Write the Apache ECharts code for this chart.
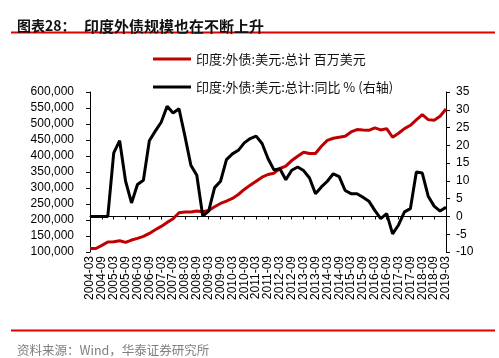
<!DOCTYPE html>
<html>
<head>
<meta charset="utf-8">
<script src="https://cdn.jsdelivr.net/npm/echarts@6/dist/echarts.min.js"></script>
<style>
html,body{margin:0;padding:0;background:#fff;}
#c{width:499px;height:358px;}
</style>
</head>
<body>
<div id="c"></div>
<script>
// Quarterly categories 2004-03 .. 2019-03
const categories = [];
for (let y = 2004; y <= 2019; y++) {
  for (const m of ['03','06','09','12']) {
    if (y === 2019 && m !== '03') break;
    categories.push(y + '-' + m);
  }
}
// India external debt, total, USD million (left axis)
const debtTotal = [
  111000,111000,120600,131100,132000,135200,130000,137300,142500,148700,
  158100,169600,180000,192500,203900,222600,224700,224700,227800,225700,
  229700,241300,251700,259000,267300,279700,295400,308900,321400,333800,
  342200,346300,360900,368100,385800,399400,411800,407600,407600,430500,
  448700,455500,458600,461700,475200,482500,481400,480400,487700,481400,
  485600,458600,471100,485600,496000,512700,529300,513700,511600,524100,
  547000
];
// Year-on-year %, right axis
const debtYoY = [
  0,0,0,0,17.9,21.3,9.9,3.8,9.0,10.2,
  21.3,24.0,26.5,31.0,29.1,30.3,22.6,14.4,11.6,0.1,
  1.5,8.1,9.9,16.0,17.6,18.6,20.7,21.9,22.6,20.5,
  16.3,13.1,13.4,10.3,13.0,13.9,12.9,10.8,6.4,8.3,
  9.9,12.0,11.2,7.3,6.4,6.4,5.4,4.3,1.7,-0.6,
  0.8,-4.9,-2.4,1.3,2.2,12.5,12.2,5.7,2.9,1.5,
  2.6
];
const seriesNames = ['印度:外债:美元:总计 百万美元', '印度:外债:美元:总计:同比 % (右轴)'];
const titleMain = '印度外债规模也在不断上升';
const titleLabel = '图表28：';
const sourceText = '资料来源：Wind，华泰证券研究所';

const chart = echarts.init(document.getElementById('c'), null, {renderer: 'canvas'});
const cjk = '"Noto Sans CJK SC", sans-serif';
const latin = 'Arial, "Liberation Sans", sans-serif';

chart.setOption({
  animation: false,
  backgroundColor: '#fff',
  title: [
    {text: titleLabel, left: 12, top: 11, textStyle: {fontFamily: cjk, fontSize: 14, fontWeight: 'bold', color: '#111', lineHeight: 20}},
    {text: titleMain, left: 79, top: 11, textStyle: {fontFamily: cjk, fontSize: 15, fontWeight: 'bold', color: '#111', lineHeight: 20}},
    {text: sourceText, left: 12, top: 337, textStyle: {fontFamily: cjk, fontSize: 12.5, fontWeight: 'normal', color: '#7f7f7f', lineHeight: 16}}
  ],
  graphic: [
    {type: 'line', shape: {x1: 11, y1: 32.5, x2: 495, y2: 32.5}, style: {stroke: '#e00000', lineWidth: 2}},
    {type: 'line', shape: {x1: 11, y1: 330.5, x2: 495, y2: 330.5}, style: {stroke: '#e00000', lineWidth: 2}}
  ],
  legend: [
    {data: [seriesNames[0]], left: 148, top: 46, itemWidth: 38, itemHeight: 3, icon: 'rect',
     textStyle: {fontFamily: cjk, fontSize: 13, color: '#111', lineHeight: 16}},
    {data: [seriesNames[1]], left: 148, top: 74, itemWidth: 38, itemHeight: 3, icon: 'rect',
     textStyle: {fontFamily: cjk, fontSize: 13, color: '#111', lineHeight: 16}}
  ],
  grid: {left: 90, right: 53, top: 92, bottom: 106, containLabel: false},
  xAxis: {
    type: 'category',
    data: categories,
    boundaryGap: false,
    axisLine: {lineStyle: {color: '#000', width: 1}},
    axisTick: {interval: 1, length: 3, lineStyle: {color: '#000'}},
    axisLabel: {interval: 1, rotate: 90, margin: 4, fontFamily: latin, fontSize: 12, color: '#000'},
    splitLine: {show: false}
  },
  yAxis: [
    {
      type: 'value', min: 100000, max: 600000, interval: 50000,
      axisLine: {show: true, lineStyle: {color: '#000', width: 1}},
      axisTick: {show: true, length: 4, lineStyle: {color: '#000'}},
      axisLabel: {margin: 16, fontFamily: latin, fontSize: 12, color: '#000',
        formatter: v => v.toLocaleString('en-US')},
      splitLine: {show: false}
    },
    {
      type: 'value', min: -10, max: 35, interval: 5, position: 'right',
      axisLine: {show: true, lineStyle: {color: '#000', width: 1}},
      axisTick: {show: true, length: 4, lineStyle: {color: '#000'}},
      axisLabel: {margin: 10, fontFamily: latin, fontSize: 12, color: '#000'},
      splitLine: {show: false}
    }
  ],
  series: [
    {name: seriesNames[0], type: 'line', data: debtTotal, yAxisIndex: 0, showSymbol: false, symbol: 'none',
     lineStyle: {color: '#c00000', width: 3}, itemStyle: {color: '#c00000'}},
    {name: seriesNames[1], type: 'line', data: debtYoY, yAxisIndex: 1, showSymbol: false, symbol: 'none',
     lineStyle: {color: '#000000', width: 3}, itemStyle: {color: '#000000'}}
  ]
});
</script>
</body>
</html>
